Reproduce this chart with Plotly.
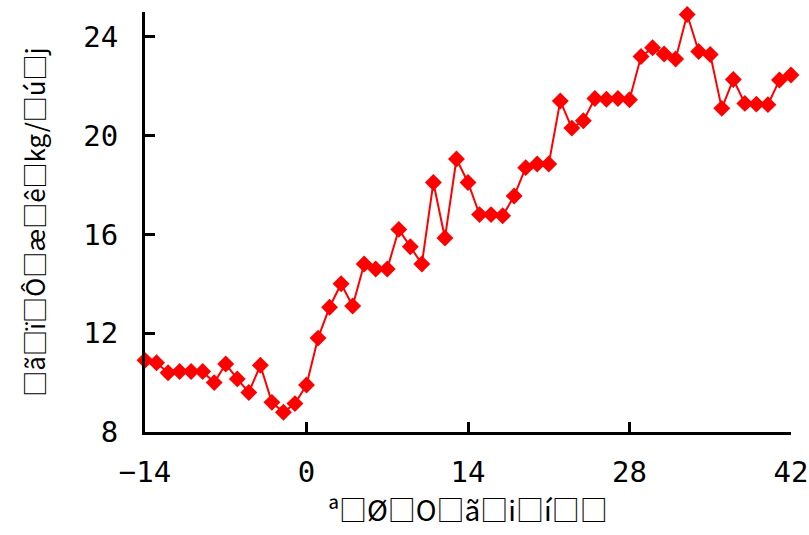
import plotly.graph_objects as go

days = list(range(-14, 43))
milk_yield = [10.9, 10.8, 10.4, 10.45, 10.45, 10.45, 10.0, 10.75, 10.15, 9.6, 10.7, 9.2, 8.8, 9.15,
              9.9, 11.8, 13.05, 14.0, 13.1, 14.8, 14.6, 14.6, 16.2, 15.5, 14.8, 18.1, 15.85, 19.05,
              18.1, 16.8, 16.8, 16.75, 17.55, 18.7, 18.85, 18.85, 21.4, 20.3, 20.6, 21.5, 21.47,
              21.5, 21.45, 23.2, 23.55, 23.3, 23.1, 24.9, 23.4, 23.28, 21.1, 22.27, 21.3, 21.27,
              21.25, 22.25, 22.45]

x_ticks = [-14, 0, 14, 28, 42]
y_ticks = [8, 12, 16, 20, 24]
x_title = "ª□Ø□O□ã□i□í□□"
y_title = "□ã□ï□Ô□æ□ê□kg/□ú□j"

tick_font = "DejaVu Sans Mono"
title_font = "Noto Sans CJK JP"

fig = go.Figure()
fig.add_trace(go.Scatter(
    x=days, y=milk_yield, mode="lines+markers",
    line=dict(color="#FF0000", width=2),
    marker=dict(symbol="diamond", size=13, color="#FF0000"),
    cliponaxis=False, showlegend=False,
))

axis_common = dict(
    showline=True, linecolor="black", linewidth=3,
    ticks="inside", ticklen=10, tickwidth=3, tickcolor="black",
    showgrid=False, zeroline=False, automargin=False,
    tickfont=dict(family=tick_font, size=29, color="black"),
)

fig.update_layout(
    width=809, height=535,
    margin=dict(l=145, r=18, t=12, b=103),
    paper_bgcolor="white", plot_bgcolor="white",
    font=dict(family=title_font, color="black"),
    xaxis=dict(range=[-14, 42], tickvals=x_ticks, ticklabelstandoff=12,
               title=dict(text=x_title, font=dict(family=title_font, size=28), standoff=2),
               **axis_common),
    yaxis=dict(range=[8, 25], tickvals=y_ticks, ticklabelstandoff=18,
               title=dict(text=y_title, font=dict(family=title_font, size=26), standoff=31),
               **axis_common),
)

fig.write_html("out.html",
               config={"displayModeBar": False},
               post_script="document.body.style.margin='0';document.body.style.padding='0';")
